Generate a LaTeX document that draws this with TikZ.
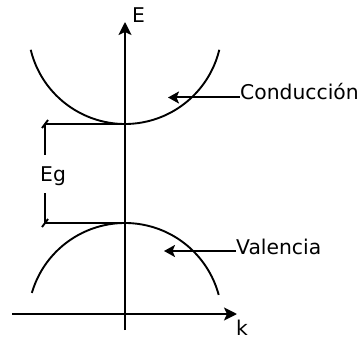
\documentclass[tikz,border=0pt]{standalone}
\usepackage{fontspec}
\setmainfont{DejaVu Sans}
\usetikzlibrary{arrows.meta}
\begin{document}
\begin{tikzpicture}[x=1pt,y=-1pt,
  axis/.style={line width=2pt,-{Stealth[length=13pt,width=13pt,inset=3pt]}},
  band/.style={line width=1.9pt},
  lvl/.style={line width=1.9pt},
  ptr/.style={line width=2pt,-{Stealth[length=11pt,width=12pt,inset=2.5pt]}},
  lbl/.style={font=\fontsize{20.3}{24}\selectfont,inner sep=0pt}]
\useasboundingbox (0,0) rectangle (361,339);
% axes
\coordinate (vb) at (125,330);
\coordinate (vt) at (125,22);
\coordinate (hl) at (12,314);
\coordinate (hr) at (237,314);
\draw[axis] (vb) -- (vt);
\draw[axis] (hl) -- (hr);
\node[lbl,anchor=base west] (E) at (132,23) {E};
\node[lbl,anchor=base west] (k) at (236,335) {k};
% bands
\coordinate (cc) at (125,27);
\coordinate (vc) at (125,320);
\draw[band] (cc) ++(166.4:97) arc[start angle=166.4,end angle=13.6,radius=97];
\draw[band] (vc) ++(196.2:97) arc[start angle=196.2,end angle=345,radius=97];
% levels
\coordinate (cmin) at (125,124);
\coordinate (vmax) at (125,223);
\coordinate (ca) at (45,124);
\coordinate (va) at (45,223);
\coordinate (cd) at (45,155);
\coordinate (vd) at (45,193);
\draw[lvl] (ca) -- (cmin);
\draw[lvl] (va) -- (vmax);
\draw[lvl] (ca) -- (cd);
\draw[lvl] (vd) -- (va);
\draw[lvl] (ca) ++(-3,4) -- ++(6,-8);
\draw[lvl] (va) ++(-3,4) -- ++(6,-8);
\node[lbl,anchor=base west] (Eg) at (40,182) {Eg};
% labels
\node[lbl,anchor=base west] (cond) at (240,100) {Conducción};
\node[lbl,anchor=base west] (val) at (236,254) {Valencia};
\coordinate (ct) at (168,97.5);
\coordinate (vt2) at (164,251);
\draw[ptr] (cond.west |- ct) -- (ct);
\draw[ptr] (val.west |- vt2) -- (vt2);
\end{tikzpicture}
\end{document}
